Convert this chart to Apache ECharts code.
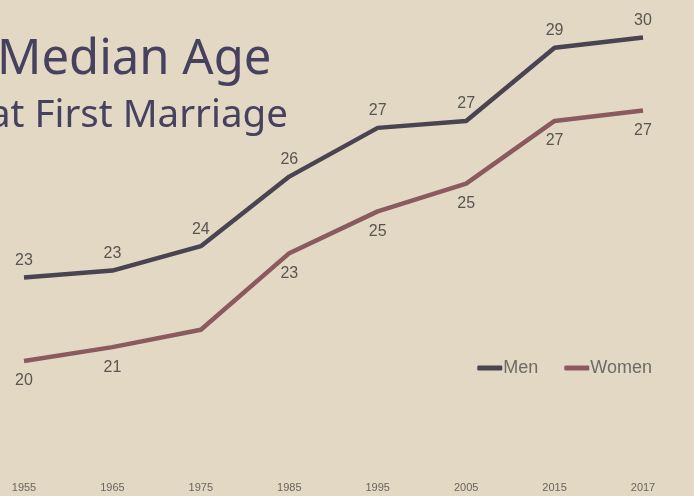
<!DOCTYPE html>
<html>
<head>
<meta charset="utf-8">
<script src="https://cdn.jsdelivr.net/npm/echarts@6/dist/echarts.min.js"></script>
<style>
html,body{margin:0;padding:0;background:#e2d8c3;}
#main{width:694px;height:496px;}
</style>
</head>
<body>
<div id="main"></div>
<script>
var years = ['1955', '1965', '1975', '1985', '1995', '2005', '2015', '2017'];
var menAge = [22.6, 22.8, 23.5, 25.5, 26.9, 27.1, 29.2, 29.5];
var womenAge = [20.2, 20.6, 21.1, 23.3, 24.5, 25.3, 27.1, 27.4];
var womenHideLabel = ['1975'];

var chart = echarts.init(document.getElementById('main'));

var labelStyle = {
	show: true,
	fontSize: 16,
	color: '#5a5550',
	fontFamily: 'Liberation Sans',
	formatter: function(p) {
		return Math.round(p.value);
	}
};

var option = {
	backgroundColor: '#e2d8c3',
	animation: false,
	graphic: [{
			type: 'text',
			left: -3,
			top: 36,
			style: {
				text: 'Median Age',
				font: '49px "Noto Sans"',
				fill: '#46415e'
			}
		},
		{
			type: 'text',
			left: -11,
			top: 97,
			style: {
				text: 'at First Marriage',
				font: '38.5px "Noto Sans"',
				fill: '#46415e'
			}
		}
	],
	legend: {
		right: 37,
		top: 354,
		icon: 'roundRect',
		itemWidth: 25,
		itemHeight: 5,
		itemGap: 26,
		textStyle: {
			fontSize: 18,
			color: '#6e6a66',
			fontFamily: 'Liberation Sans',
			padding: [0, 0, 0, -4]
		},
		data: ['Men', 'Women']
	},
	grid: {
		left: 24,
		right: 51,
		top: 20,
		bottom: 23.6
	},
	xAxis: {
		type: 'category',
		boundaryGap: false,
		data: years,
		axisLine: { show: false },
		axisTick: { show: false },
		axisLabel: {
			margin: 10,
			fontSize: 11,
			color: '#6a6560',
			fontFamily: 'Liberation Sans'
		}
	},
	yAxis: {
		type: 'value',
		min: 17,
		max: 30,
		show: false
	},
	series: [{
			name: 'Men',
			type: 'line',
			data: menAge,
			symbol: 'circle',
			symbolSize: 0,
			color: '#4a4352',
			lineStyle: { width: 4.5, color: '#4a4352' },
			label: Object.assign({ position: 'top', distance: 9 }, labelStyle)
		},
		{
			name: 'Women',
			type: 'line',
			data: womenAge.map(function(v, i) {
				return {
					value: v,
					label: { show: womenHideLabel.indexOf(years[i]) < 0 }
				};
			}),
			symbol: 'circle',
			symbolSize: 0,
			color: '#8b5a5e',
			lineStyle: { width: 4.5, color: '#8b5a5e' },
			label: Object.assign({ position: 'bottom', distance: 12 }, labelStyle)
		}
	]
};
chart.setOption(option);
</script>
</body>
</html>
